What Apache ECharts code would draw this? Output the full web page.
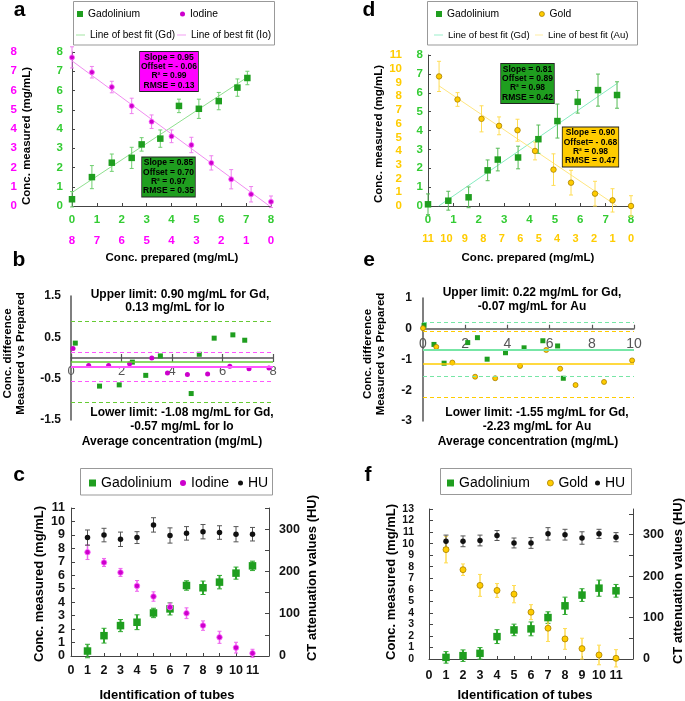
<!DOCTYPE html>
<html><head><meta charset="utf-8">
<script src="https://cdn.jsdelivr.net/npm/echarts@6.0.0/dist/echarts.min.js"></script>
<style>html,body{margin:0;padding:0;background:#fff}#c{width:685px;height:701px}</style>
</head><body><div id="c"></div>
<script>
// ---------- Panel a : Gd / Iodine, measured vs prepared ----------
const aGdPrepared = [0, 0.8, 1.6, 2.4, 2.8, 3.55, 4.3, 5.1, 5.9, 6.65, 7.05];
const aGdMeasured = [0.35, 1.5, 2.25, 2.5, 3.2, 3.5, 5.2, 5.05, 5.45, 6.15, 6.65];
const aGdErr      = [0.4, 0.6, 0.45, 0.55, 0.35, 0.45, 0.35, 0.5, 0.45, 0.45, 0.35];
const aIoPrepared = [8, 7.2, 6.4, 5.6, 4.8, 4, 3.2, 2.4, 1.6, 0.8, 0];
const aIoMeasured = [7.72, 6.95, 6.18, 5.2, 4.38, 3.62, 3.17, 2.24, 1.39, 0.61, 0.22];
const aIoErr      = [0.55, 0.3, 0.3, 0.4, 0.35, 0.33, 0.4, 0.37, 0.5, 0.4, 0.3];
const aGdFit = [[0, 0.70], [7.05, 6.69]];
const aIoFit = [[8, 7.54], [0.06, 0]];
const aGdStats = ['Slope = 0.85', 'Offset = 0.70', 'R\u00b2 = 0.97', 'RMSE = 0.35'];
const aIoStats = ['Slope = 0.95', 'Offset = - 0.06', 'R\u00b2 = 0.99', 'RMSE = 0.13'];

// ---------- Panel d : Gd / Gold, measured vs prepared ----------
const dGdPrepared = [0, 0.8, 1.6, 2.35, 2.75, 3.55, 4.35, 5.1, 5.9, 6.7, 7.45];
const dGdMeasured = [0.09, 0.28, 0.46, 1.89, 2.46, 2.57, 3.54, 4.5, 5.52, 6.14, 5.88];
const dGdErr      = [0.55, 0.5, 0.55, 0.55, 0.6, 0.6, 0.75, 0.9, 0.6, 0.85, 0.7];
const dAuPrepared = [10.4, 9.4, 8.1, 7.15, 6.15, 5.2, 4.2, 3.25, 1.95, 1.0, 0];
const dAuMeasured = [9.44, 7.76, 6.35, 5.84, 5.52, 4.01, 2.65, 1.7, 0.9, 0.41, 0.0];
const dAuErr      = [1.1, 0.5, 0.95, 0.65, 0.8, 0.65, 1.15, 0.9, 0.9, 0.85, 0.75];
const dGdFit = [[0.42, 0], [7.46, 6.5]];
const dAuFit = [[10.4, 8.75], [0.76, 0]];
const dGdStats = ['Slope = 0.81', 'Offset = 0.89', 'R\u00b2 = 0.98', 'RMSE = 0.42'];
const dAuStats = ['Slope = 0.90', 'Offset= - 0.68', 'R\u00b2 = 0.98', 'RMSE = 0.47'];

// ---------- Panel b : Bland-Altman Gd / Io ----------
const bGdAvg  = [0.17, 1.13, 1.91, 2.43, 2.96, 3.54, 4.76, 5.08, 5.67, 6.41, 6.88];
const bGdDiff = [0.36, -0.68, -0.65, -0.10, -0.42, 0.05, -0.86, 0.09, 0.48, 0.56, 0.43];
const bIoAvg  = [0.08, 0.70, 1.49, 2.32, 3.2, 3.82, 4.61, 5.41, 6.29, 7.05, 7.84];
const bIoDiff = [0.23, -0.18, -0.18, -0.14, 0.0, -0.36, -0.40, -0.39, -0.20, -0.26, -0.24];
const bGdLimits = [0.90, -0.09, -1.08];   // upper, mean, lower
const bIoLimits = [0.13, -0.22, -0.57];

// ---------- Panel e : Bland-Altman Gd / Au ----------
const eGdAvg  = [0.05, 0.52, 1.0, 2.12, 2.58, 3.04, 3.91, 4.79, 5.68, 6.38, 6.65];
const eGdDiff = [0.11, -0.51, -1.12, -0.45, -0.29, -0.99, -0.78, -0.62, -0.39, -0.56, -1.61];
const eAuAvg  = [0, 0.63, 1.39, 2.47, 3.42, 4.60, 5.84, 6.50, 7.23, 8.58, 9.91];
const eAuDiff = [0.02, -0.59, -1.10, -1.56, -1.61, -1.21, -0.69, -1.30, -1.83, -1.73, -1.03];
const eGdLimits = [0.22, -0.665, -1.55];
const eAuLimits = [-0.07, -1.15, -2.23];

// ---------- Panel c : tubes Gd / Io / HU ----------
const tubes  = [1, 2, 3, 4, 5, 6, 7, 8, 9, 10, 11];
const cGd    = [0.37, 1.51, 2.26, 2.51, 3.2, 3.5, 5.24, 5.07, 5.49, 6.16, 6.7];
const cGdErr = [0.5, 0.55, 0.45, 0.55, 0.35, 0.45, 0.35, 0.5, 0.5, 0.45, 0.35];
const cIo    = [7.72, 6.95, 6.21, 5.21, 4.42, 3.63, 3.18, 2.26, 1.39, 0.62, 0.2];
const cIoErr = [0.55, 0.3, 0.3, 0.4, 0.35, 0.3, 0.4, 0.35, 0.45, 0.4, 0.3];
const cHU    = [280, 286, 276, 280, 310, 285, 290, 294, 292, 288, 288];
const cHUErr = [18, 16, 17, 14, 17, 18, 16, 17, 16, 18, 16];

// ---------- Panel f : tubes Gd / Au / HU ----------
const fGd    = [0.14, 0.29, 0.49, 1.94, 2.52, 2.61, 3.59, 4.61, 5.54, 6.14, 5.91];
const fGdErr = [0.5, 0.5, 0.5, 0.6, 0.5, 0.6, 0.5, 0.75, 0.55, 0.7, 0.55];
const fAu    = [9.48, 7.74, 6.38, 5.94, 5.62, 4.06, 2.67, 1.74, 0.9, 0.35, 0.06];
const fAuErr = [1.15, 0.5, 0.95, 0.6, 0.75, 0.65, 1.15, 0.9, 0.9, 0.85, 0.75];
const fHU    = [284, 284, 286, 298, 280, 280, 302, 300, 292, 302, 294];
const fHUErr = [15, 13, 13, 12, 12, 13, 15, 13, 15, 11, 11];

// ================= styling & helpers =================
const F = "'Liberation Sans', Arial, Helvetica, sans-serif";
const GREEN = '#1f9e1f', MAG = '#cc00cc', GOLD = '#ffcc00', BLK = '#111';
const GLAB = '#33cc33', MLAB = '#ff00ff', YLAB = '#ffcc00';
const SQ_ICON = 'path://M0,0H10V10H0Z';
const LINE_ICON = 'path://M0,0H12V1.1H0Z';

function pairs(xs, ys) { return xs.map((x, i) => [x, ys[i]]); }
function triples(xs, ys, es) { return xs.map((x, i) => [x, ys[i], es[i]]); }

function errBar(xi, yi, xs, ys, es, color, lw, cap) {
  return {
    type: 'custom', name: 'err', xAxisIndex: xi, yAxisIndex: yi, silent: true, z: 2,
    data: triples(xs, ys, es), encode: { x: 0, y: 1 },
    renderItem: function (params, api) {
      const x = api.value(0), y = api.value(1), e = api.value(2);
      const lo = api.coord([x, y - e]), hi = api.coord([x, y + e]);
      return { type: 'group', children: [
        { type: 'line', shape: { x1: lo[0], y1: lo[1], x2: hi[0], y2: hi[1] }, style: { stroke: color, lineWidth: lw } },
        { type: 'line', shape: { x1: lo[0] - cap, y1: lo[1], x2: lo[0] + cap, y2: lo[1] }, style: { stroke: color, lineWidth: 1 } },
        { type: 'line', shape: { x1: hi[0] - cap, y1: hi[1], x2: hi[0] + cap, y2: hi[1] }, style: { stroke: color, lineWidth: 1 } }
      ]};
    }
  };
}
function scatter(name, xi, yi, data, symbol, size, color, border, z) {
  return { type: 'scatter', name: name, xAxisIndex: xi, yAxisIndex: yi, data: data, symbol: symbol,
    symbolSize: size, z: z || 4, clip: false, color: color,
    itemStyle: { color: color, borderColor: border || color, borderWidth: border ? 0.8 : 0, opacity: 1 } };
}
function fitLine(name, xi, yi, data, color) {
  return { type: 'line', name: name, xAxisIndex: xi, yAxisIndex: yi, data: data, symbol: 'none',
    showSymbol: false, z: 1, color: color, itemStyle: { color: color }, lineStyle: { color: color, width: 1 } };
}
function hLines(xi, yi, lims, color, meanW) {
  const mk = (v, type, w) => ({ yAxis: v, lineStyle: { color: color, type: type, width: w } });
  return { type: 'line', name: 'limits', xAxisIndex: xi, yAxisIndex: yi, data: [], z: 1,
    markLine: { silent: true, symbol: ['none', 'none'], label: { show: false }, animation: false,
      data: [mk(lims[0], [4, 3], 1.2), mk(lims[1], 'solid', meanW), mk(lims[2], [4, 3], 1.2)] } };
}
function lab(color, size, margin, extra) {
  return Object.assign({ color: color, fontWeight: 'bold', fontSize: size, fontFamily: F, margin: margin,
    showMinLabel: true, showMaxLabel: true, hideOverlap: false }, extra || {});
}
const AX = { color: '#444', width: 1 };
const TICK_IN = (len) => ({ show: true, inside: true, length: len, lineStyle: AX });
function valAxis(o) {
  return Object.assign({ type: 'value', splitLine: { show: false } }, o);
}
const GRAYLAB = (size, margin) => ({ color: '#555', fontSize: size, fontFamily: F, margin: margin, inside: true,
  showMinLabel: true, showMaxLabel: true });

// ---------- axes ----------
const xAxes = [
  valAxis({ gridIndex: 0, min: 0, max: 8, interval: 1, position: 'bottom',
    axisLine: { onZero: false, lineStyle: AX }, axisTick: TICK_IN(3),
    axisLabel: lab(GLAB, 11.5, 8) }),
  valAxis({ gridIndex: 0, min: 0, max: 8, interval: 1, inverse: true, position: 'bottom', offset: 21,
    axisLine: { show: false, onZero: false }, axisTick: { show: false }, axisLabel: lab(MLAB, 11.5, 8) }),
  valAxis({ gridIndex: 1, min: 0, max: 8, interval: 1, position: 'bottom',
    axisLine: { onZero: false, lineStyle: AX }, axisTick: TICK_IN(3),
    axisLabel: lab(GLAB, 11.5, 8) }),
  valAxis({ gridIndex: 1, min: 0, max: 11, interval: 1, inverse: true, position: 'bottom', offset: 19,
    axisLine: { show: false, onZero: false }, axisTick: { show: false }, axisLabel: lab(YLAB, 11, 8) }),
  // b : zero line drawn as a top axis pushed down to y = 0
  valAxis({ gridIndex: 2, min: 0, max: 8, interval: 2, position: 'top', offset: -62,
    axisLine: { onZero: false, lineStyle: { color: '#555', width: 1.5 } },
    axisTick: { length: 4, lineStyle: { color: '#555', width: 1.2 } },
    axisLabel: GRAYLAB(13, 7) }),
  valAxis({ gridIndex: 2, min: 0, max: 8, interval: 2, position: 'top', offset: -62,
    axisLine: { show: false, onZero: false }, axisTick: { inside: true, length: 4, lineStyle: { color: '#555', width: 1.2 } },
    axisLabel: { show: false } }),
  // e
  valAxis({ gridIndex: 3, min: 0, max: 10, interval: 2, position: 'top', offset: -30.75,
    axisLine: { onZero: false, lineStyle: { color: '#555', width: 1.5 } },
    axisTick: { length: 4, lineStyle: { color: '#555', width: 1.2 } },
    axisLabel: GRAYLAB(14, 8) }),
  valAxis({ gridIndex: 4, min: 0, max: 12, interval: 1, position: 'bottom',
    axisLine: { onZero: false, lineStyle: AX }, axisTick: TICK_IN(3),
    axisLabel: lab('#111', 12.5, 8, { showMaxLabel: false }) }),
  valAxis({ gridIndex: 5, min: 0, max: 12, interval: 1, position: 'bottom',
    axisLine: { onZero: false, lineStyle: AX }, axisTick: TICK_IN(3),
    axisLabel: lab('#111', 12.5, 10, { showMaxLabel: false }) })
];
const hundreds = v => (Math.round(v) % 100 === 0 ? String(Math.round(v)) : '');
const halfOdd = v => { const a = Math.abs(v); return (Math.abs(a - 0.5) < 1e-6 || Math.abs(a - 1.5) < 1e-6) ? String(v) : ''; };
const yAxes = [
  valAxis({ gridIndex: 0, min: 0, max: 8, interval: 1, position: 'left',
    axisLine: { onZero: false, lineStyle: AX }, axisTick: TICK_IN(3), axisLabel: lab(GLAB, 11.5, 9) }),
  valAxis({ gridIndex: 0, min: 0, max: 8, interval: 1, position: 'left', offset: 46,
    axisLine: { show: false, onZero: false }, axisTick: { show: false }, axisLabel: lab(MLAB, 11.5, 9) }),
  valAxis({ gridIndex: 1, min: 0, max: 8, interval: 1, position: 'left',
    axisLine: { onZero: false, lineStyle: AX }, axisTick: TICK_IN(3), axisLabel: lab(GLAB, 11.5, 5) }),
  valAxis({ gridIndex: 1, min: 0, max: 11, interval: 1, position: 'left', offset: 21,
    axisLine: { show: false, onZero: false }, axisTick: { show: false }, axisLabel: lab(YLAB, 11.5, 5) }),
  valAxis({ gridIndex: 2, min: -1.5, max: 1.5, interval: 0.5, position: 'left',
    axisLine: { onZero: false, lineStyle: { color: '#555', width: 1.5 } }, axisTick: { show: false },
    axisLabel: lab('#111', 12, 10, { formatter: halfOdd }) }),
  valAxis({ gridIndex: 3, min: -3, max: 1, interval: 1, position: 'left',
    axisLine: { onZero: false, lineStyle: { color: '#555', width: 1.5 } }, axisTick: { show: false },
    axisLabel: lab('#111', 12, 11) }),
  valAxis({ gridIndex: 4, min: 0, max: 11, interval: 1, position: 'left',
    axisLine: { onZero: false, lineStyle: AX }, axisTick: TICK_IN(4), axisLabel: lab('#111', 12.5, 6) }),
  valAxis({ gridIndex: 4, min: 0, max: 350, interval: 50, position: 'right',
    axisLine: { onZero: false, lineStyle: AX }, axisTick: TICK_IN(4),
    axisLabel: lab('#111', 12.5, 10, { formatter: hundreds }) }),
  valAxis({ gridIndex: 5, min: 0, max: 13, interval: 1, position: 'left',
    axisLine: { onZero: false, lineStyle: AX }, axisTick: TICK_IN(4),
    axisLabel: lab('#111', 10.5, 15, { lineHeight: 9 }) }),
  valAxis({ gridIndex: 5, min: 0, max: 362, interval: 50, position: 'right',
    axisLine: { onZero: false, lineStyle: AX }, axisTick: TICK_IN(4),
    axisLabel: lab('#111', 12.5, 10, { formatter: hundreds, showMaxLabel: false }) })
];

// ---------- series ----------
const series = [
  // a
  errBar(0, 0, aGdPrepared, aGdMeasured, aGdErr, '#6fcf6f', 1, 2),
  errBar(1, 1, aIoPrepared, aIoMeasured, aIoErr, '#ee80ee', 1, 2),
  fitLine('Line of best fit (Gd)', 0, 0, aGdFit, '#8fe08f'),
  fitLine('Line of best fit (Io)', 1, 1, aIoFit, '#f08cf0'),
  scatter('Gadolinium', 0, 0, pairs(aGdPrepared, aGdMeasured), 'rect', 6.5, GREEN),
  scatter('Iodine', 1, 1, pairs(aIoPrepared, aIoMeasured), 'circle', 5, MAG, '#ff66ff'),
  // d
  errBar(2, 2, dGdPrepared, dGdMeasured, dGdErr, '#55bb55', 1, 2),
  errBar(3, 3, dAuPrepared, dAuMeasured, dAuErr, '#ffdd55', 1, 2),
  fitLine('Line of best fit (Gd) ', 2, 2, dGdFit, '#86ecc0'),
  fitLine('Line of best fit (Au)', 3, 3, dAuFit, '#ffe680'),
  scatter('Gadolinium ', 2, 2, pairs(dGdPrepared, dGdMeasured), 'rect', 6.5, GREEN),
  scatter('Gold', 3, 3, pairs(dAuPrepared, dAuMeasured), 'circle', 5.5, GOLD, '#a88000'),
  // b
  hLines(4, 4, bGdLimits, '#66cc33', 1.5),
  hLines(4, 4, bIoLimits, '#ff55ff', 2),
  scatter('Gd diff', 4, 4, pairs(bGdAvg, bGdDiff), 'rect', 5, GREEN),
  scatter('Io diff', 4, 4, pairs(bIoAvg, bIoDiff), 'circle', 5, MAG),
  // e
  hLines(6, 5, eGdLimits, '#77e6a6', 2),
  hLines(6, 5, eAuLimits, '#ffcc00', 1.5),
  scatter('Gd diff e', 6, 5, pairs(eGdAvg, eGdDiff), 'rect', 5, GREEN),
  scatter('Au diff e', 6, 5, pairs(eAuAvg, eAuDiff), 'circle', 5, GOLD, '#a88000'),
  // c
  errBar(7, 6, tubes, cGd, cGdErr, '#33aa33', 2, 2.5),
  errBar(7, 6, tubes, cIo, cIoErr, '#ee66ee', 1.5, 2),
  errBar(7, 7, tubes, cHU, cHUErr, '#555', 1, 2.5),
  scatter('Gadolinium  ', 7, 6, pairs(tubes, cGd), 'rect', 7.5, GREEN),
  scatter('Iodine ', 7, 6, pairs(tubes, cIo), 'circle', 5.5, MAG, '#ff66ff'),
  scatter('HU', 7, 7, pairs(tubes, cHU), 'circle', 5.5, BLK),
  // f
  errBar(8, 8, tubes, fGd, fGdErr, '#33aa33', 2, 2.5),
  errBar(8, 8, tubes, fAu, fAuErr, '#ffdd55', 1.5, 2),
  errBar(8, 9, tubes, fHU, fHUErr, '#555', 1, 2.5),
  scatter('Gadolinium   ', 8, 8, pairs(tubes, fGd), 'rect', 7.5, GREEN),
  scatter('Gold ', 8, 8, pairs(tubes, fAu), 'circle', 6, GOLD, '#a88000'),
  scatter('HU ', 8, 9, pairs(tubes, fHU), 'circle', 5.5, BLK)
];

// ---------- legends (one per item, placed like the reference) ----------
function lg(name, label, left, top, w, h, fs, icon, color, border) {
  return { left: left, top: top, padding: 0, itemWidth: w, itemHeight: h, itemGap: 0, symbolKeepAspect: true,
    textStyle: { fontSize: fs, fontFamily: F, color: '#000', lineHeight: h },
    formatter: () => label,
    data: [{ name: name, icon: icon,
      itemStyle: { color: color, borderColor: border || color, borderWidth: border ? 0.8 : 0 },
      lineStyle: { color: color, width: 1 } }] };
}
const legends = [
  lg('Gadolinium', 'Gadolinium', 77, 8, 6, 12, 10.3, SQ_ICON, GREEN),
  lg('Iodine', 'Iodine', 180, 8, 5, 12, 10.3, 'circle', MAG),
  lg('Line of best fit (Gd)', 'Line of best fit (Gd)', 76, 29, 9, 12, 10, LINE_ICON, '#8fe08f'),
  lg('Line of best fit (Io)', 'Line of best fit (Io)', 177, 29, 9, 12, 10, LINE_ICON, '#f08cf0'),
  lg('Gadolinium ', 'Gadolinium', 436, 8, 6, 12, 10.3, SQ_ICON, GREEN),
  lg('Gold', 'Gold', 539, 8, 5, 12, 10.3, 'circle', GOLD, '#a88000'),
  lg('Line of best fit (Gd) ', 'Line of best fit (Gd)', 434, 29, 9, 12, 9.6, LINE_ICON, '#86ecc0'),
  lg('Line of best fit (Au)', 'Line of best fit (Au)', 535, 29, 8, 12, 9.6, LINE_ICON, '#ffe680'),
  lg('Gadolinium  ', 'Gadolinium', 89, 475, 7, 16, 14, SQ_ICON, GREEN),
  lg('Iodine ', 'Iodine', 180, 475, 6, 16, 14, 'circle', MAG),
  lg('HU', 'HU', 238, 475, 5, 16, 14, 'circle', BLK),
  lg('Gadolinium   ', 'Gadolinium', 447, 475, 7, 16, 14, SQ_ICON, GREEN),
  lg('Gold ', 'Gold', 547, 475, 6, 16, 14, 'circle', GOLD, '#a88000'),
  lg('HU ', 'HU', 595, 475, 5, 16, 14, 'circle', BLK)
];

// ---------- text / boxes ----------
function T(text, x, y, size, o) {
  o = o || {};
  return { type: 'text', x: x, y: y, rotation: o.rot || 0, silent: true, z: 100,
    style: Object.assign({ text: text, fontSize: size, fontWeight: o.weight || 'bold', fontFamily: F,
      fill: '#000', align: 'center', verticalAlign: 'middle' }, o.style || {}) };
}
function statBox(lines, x, y, bg) {
  return T(lines.join('\n'), x, y, 8.5, { style: { lineHeight: 9.3, backgroundColor: bg,
    borderColor: '#222', borderWidth: 0.8, padding: [1, 1] } });
}
function box(x, y, w, h) {
  return { type: 'rect', silent: true, z: 0, shape: { x: x, y: y, width: w, height: h },
    style: { fill: '#fff', stroke: '#999', lineWidth: 1 } };
}
const R = Math.PI / 2;
const graphic = [
  box(73.5, 1.5, 201, 43.5), box(427.5, 1.5, 210, 43.5), box(80.5, 468.5, 192, 26.5), box(440.5, 468.5, 191, 26),
  T('a', 19.5, 10.4, 21), T('d', 369, 10.4, 21), T('b', 19, 260.4, 21), T('e', 369, 260.4, 21),
  T('c', 19, 475.4, 21), T('f', 368, 475.4, 21),
  T('Conc. measured (mg/mL)', 27, 136, 11.5, { rot: R }),
  T('Conc. measured (mg/mL)', 378.5, 134, 11.5, { rot: R }),
  T('Conc. prepared (mg/mL)', 172, 258, 11.5),
  T('Conc. prepared (mg/mL)', 528, 258, 11.5),
  statBox(aIoStats, 169, 71.5, '#ff00ff'),
  statBox(aGdStats, 168.5, 177, '#1f9e1f'),
  statBox(dGdStats, 527.5, 83.5, '#1f9e1f'),
  statBox(dAuStats, 590.5, 147, '#ffcc00'),
  T('Conc. difference', 8, 353.5, 11.5, { rot: R }),
  T('Measured vs Prepared', 21, 353.5, 11.5, { rot: R }),
  T('Conc. difference', 368, 354, 11.5, { rot: R }),
  T('Measured vs Prepared', 381, 354, 11.5, { rot: R }),
  T('Upper limit: 0.90 mg/mL for Gd,', 180, 295, 12),
  T('0.13 mg/mL for Io', 175, 307.5, 12),
  T('Lower limit: -1.08 mg/mL for Gd,', 182, 413, 12),
  T('-0.57 mg/mL for Io', 182, 427, 12),
  T('Average concentration (mg/mL)', 172, 442, 12),
  T('Upper limit: 0.22 mg/mL for Gd,', 532, 293, 12),
  T('-0.07 mg/mL for Au', 532, 306.5, 12),
  T('Lower limit: -1.55 mg/mL for Gd,', 537, 413, 12),
  T('-2.23 mg/mL for Au', 537, 427, 12),
  T('Average concentration (mg/mL)', 528, 442, 12),
  T('Conc. measured (mg/mL)', 39, 584, 13, { rot: R }),
  T('CT attenuation values (HU)', 312.5, 578, 13, { rot: R }),
  T('Identification of tubes', 167, 695, 13),
  T('Conc. measured (mg/mL)', 391, 582, 13, { rot: R }),
  T('CT attenuation values (HU)', 678, 581, 13, { rot: R }),
  T('Identification of tubes', 525, 695, 13)
];

const grids = [
  { left: 72, top: 52, width: 199, height: 154 },
  { left: 428, top: 55, width: 203, height: 151 },
  { left: 71, top: 296, width: 202, height: 124 },
  { left: 423, top: 298, width: 211, height: 123 },
  { left: 71, top: 508, width: 198, height: 148 },
  { left: 429, top: 509, width: 204, height: 150 }
].map(g => Object.assign({ containLabel: false, outerBoundsMode: 'none' }, g));

const chart = echarts.init(document.getElementById('c'), null, { renderer: 'canvas' });
chart.setOption({
  animation: false,
  backgroundColor: '#fff',
  textStyle: { fontFamily: F },
  grid: grids,
  xAxis: xAxes,
  yAxis: yAxes,
  legend: legends,
  series: series,
  graphic: graphic
});
</script></body></html>
